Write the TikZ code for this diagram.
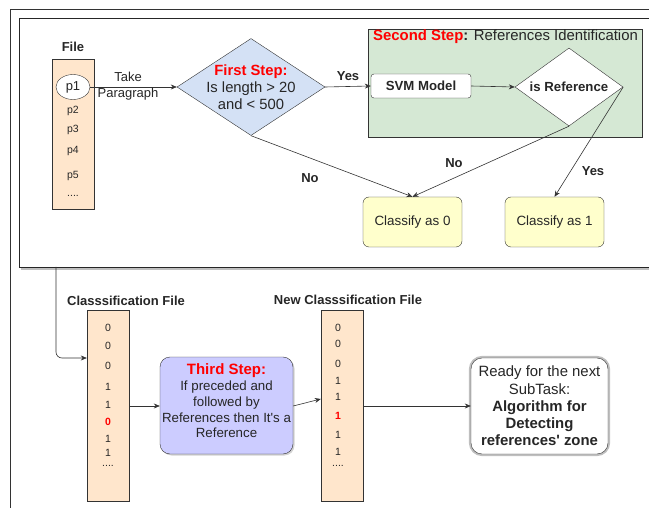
\documentclass[tikz,border=0pt]{standalone}
\usepackage{fontspec}
\setmainfont{Liberation Sans}
\usetikzlibrary{shapes.geometric,arrows.meta,shadows}
\definecolor{filefill}{HTML}{FFE6CC}
\definecolor{bluefill}{HTML}{D4E1F5}
\definecolor{greenfill}{HTML}{D5E8D4}
\definecolor{yellowfill}{HTML}{FFFFCC}
\definecolor{lavfill}{HTML}{CCCCFF}
\definecolor{linec}{HTML}{333333}
\tikzset{
  every node/.style={font=\fontsize{13.3}{15.5}\selectfont, text=black!85},
  arr/.style={draw=linec, line width=0.6pt, -{Stealth[length=6pt,width=5pt]}},
  filebox/.style={draw=linec, fill=filefill, minimum width=42pt, inner sep=0},
  small/.style={font=\fontsize{10.5}{12}\selectfont},
  lbl/.style={font=\bfseries\fontsize{13}{15}\selectfont},
  ybox/.style={draw=linec, fill=yellowfill, rounded corners=6pt, minimum width=99pt, minimum height=50pt, inner sep=0, font=\fontsize{13.4}{15}\selectfont},
}
\begin{document}
\begin{tikzpicture}[x=1pt,y=-1pt]
\useasboundingbox (0,0) rectangle (649,508);
% outer frame
\draw[line width=0.8pt, black!80] (10,508) -- (10,9) -- (649,9);
% inner box with shadow
\draw[line width=2pt, black!25] (21,269.5) -- (649,269.5);
\draw[line width=0.8pt, black!85] (649,18) -- (19,18) -- (19,267) -- (649,267);
\coordinate (topbox) at (56,267);

% File
\node[lbl] (filelbl) at (73,47) {File};
\node[filebox, minimum height=150pt] (file) at (73,134) {};
\node[draw=linec, fill=white, ellipse, minimum width=34pt, minimum height=25pt, inner sep=0, font=\fontsize{13}{14}\selectfont] (p1) at (73,87) {p1};
\node[small] (p2) at (73,111) {p2};
\node[small] (p3) at (73,130) {p3};
\node[small] (p4) at (73,151) {p4};
\node[small] (p5) at (73,176) {p5};
\node[small] (pd) at (73,196) {....};

% first diamond
\node[draw=linec, fill=bluefill, diamond, minimum width=148pt, minimum height=97pt, inner sep=0] (d1) at (251,87) {};
\node[align=center, font=\fontsize{14.8}{17}\selectfont] (d1t) at (251,87) {\textcolor{red}{\bfseries First Step:}\\Is length > 20\\and < 500};
\draw[arr] (p1.east) -- (d1.west);
\node[align=center, font=\fontsize{13}{16}\selectfont] (take) at (128,86) {Take\\Paragraph};

% second step group
\node[draw=linec, fill=greenfill, minimum width=274pt, minimum height=108pt, inner sep=0] (green) at (505,83) {};
\node[font=\fontsize{14.9}{17}\selectfont] (gtitle) at (505.5,37) {\textcolor{red}{\bfseries Second Step}\textbf{:} References Identification};
\node[draw=linec, fill=white, rounded corners=3pt, minimum width=100pt, minimum height=24pt, inner sep=0, font=\bfseries\fontsize{13.2}{15}\selectfont] (svm) at (421,86) {SVM Model};
\node[draw=linec, fill=white, diamond, minimum width=108pt, minimum height=78pt, inner sep=0] (d2) at (569,87) {};
\node[font=\bfseries\fontsize{13.2}{15}\selectfont] (d2t) at (569,87) {is Reference};
\draw[arr] (svm.east) -- (d2.west);
\draw[arr] (d1.east) -- node[lbl, above=2pt] (yes1) {Yes} (svm.west);

% classify boxes
\node[ybox] (c0) at (412.5,222) {Classify as 0};
\node[ybox] (c1) at (554.5,222) {Classify as 1};
\draw[arr] (d1.south) -- (c0.north);
\draw[arr] (d2.south) -- (c0.north);
\draw[arr] (d2.east) -- (c1.north);
\node[lbl] (no1) at (310,178) {No};
\node[lbl] (no2) at (454,163) {No};
\node[lbl] (yes2) at (593,171) {Yes};

% classification file
\node[lbl] (cflbl) at (126,301) {Classsification File};
\node[filebox, minimum height=191pt] (cf) at (108,405.5) {};
\foreach \v/\y [count=\i] in {0/328,0/346,0/366,1/387,1/405,{\textcolor{red}{\bfseries 0}}/422,1/439,1/453,{....}/466}
  \node[small] (cfv\i) at (108,\y) {\v};
\draw[arr, rounded corners=6pt] (topbox) -- (56,358) -- (cf.west |- 0,358);

% third step
\node[draw=linec, fill=lavfill, rounded corners=10pt, minimum width=133pt, minimum height=97pt, inner sep=0, drop shadow={opacity=0.35, shadow xshift=1.5pt, shadow yshift=-1.5pt}] (third) at (226.5,405.5) {};
\node[align=center, font=\fontsize{13.3}{15.8}\selectfont] (thirdt) at (226.5,401) {\textcolor{red}{\bfseries\fontsize{15}{17}\selectfont Third Step:}\\If preceded and\\followed by\\References then It\textquotesingle s a\\Reference};
\draw[arr] (cf.east |- 0,406) -- (third.west |- 0,406);

% new classification file
\node[lbl] (ncflbl) at (348,300) {New Classsification File};
\node[filebox, minimum height=191pt] (ncf) at (342,405.5) {};
\foreach \v/\y [count=\i] in {0/328,0/344,0/364,1/381,1/397,{\textcolor{red}{\bfseries 1}}/416,1/435,1/452,{....}/466}
  \node[small] (ncfv\i) at (338,\y) {\v};
\draw[arr] (third.east |- 0,406) -- (ncf.west |- 0,399);

% ready box
\node[draw=black!25, line width=2.2pt, rounded corners=12pt, minimum width=139pt, minimum height=98pt, inner sep=0] (readyo) at (539.5,406) {};
\node[draw=linec, fill=white, rounded corners=11pt, minimum width=137pt, minimum height=96pt, inner sep=0] (ready) at (539.5,406) {};
\node[align=center, font=\fontsize{14.9}{17.2}\selectfont] (readyt) at (539.5,406) {Ready for the next\\SubTask:\\\textbf{Algorithm for}\\\textbf{Detecting}\\\textbf{references\textquotesingle{} zone}};
\draw[arr] (ncf.east |- 0,406) -- (ready.west |- 0,406);
\end{tikzpicture}
\end{document}
